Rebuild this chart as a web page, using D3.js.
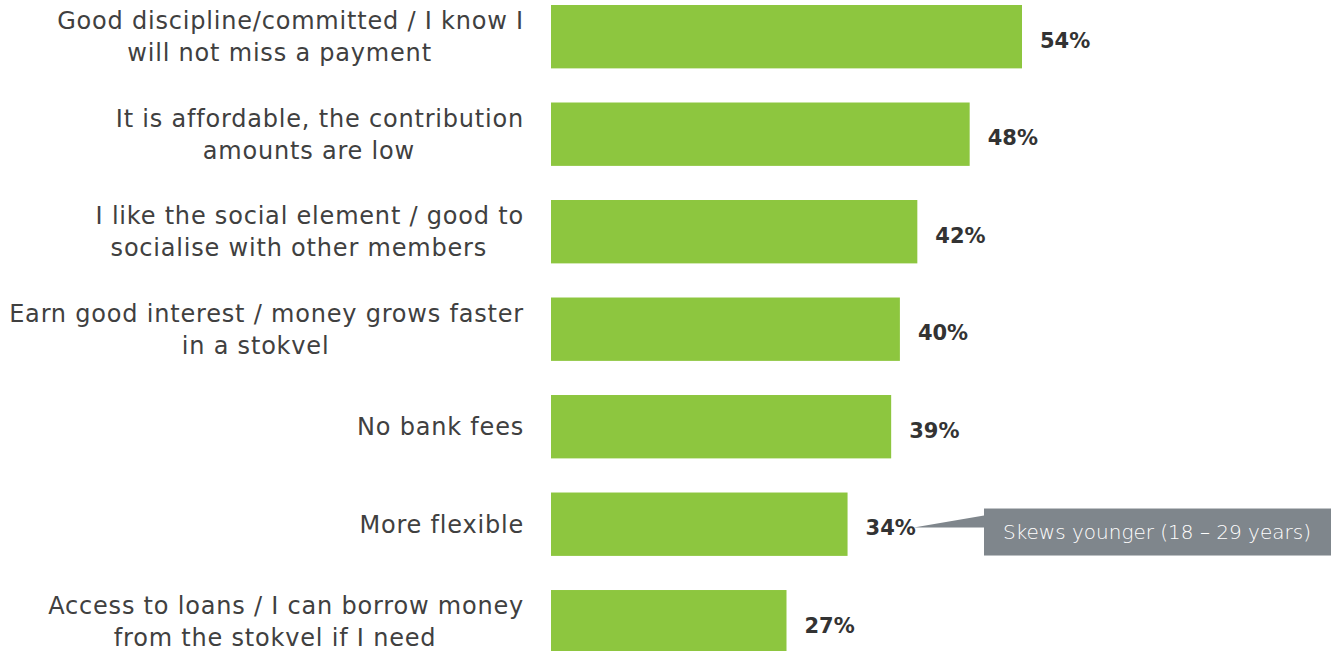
<!DOCTYPE html>
<html lang="en">
<head>
    <meta charset="UTF-8">
    <title>Why stokvel</title>
    <script src="https://cdn.jsdelivr.net/npm/d3@7"></script>
    <style>
        body { margin: 0; background: #fff; }
        text { font-family: "DejaVu Sans", sans-serif; }
    </style>
</head>
<body>
<svg id="chart"></svg>
<script>
    // data
    var categories = [
        ["Good discipline/committed / I know I", "will not miss a payment"],
        ["It is affordable, the contribution", "amounts are low"],
        ["I like the social element / good to", "socialise with other members"],
        ["Earn good interest / money grows faster", "in a stokvel"],
        ["No bank fees"],
        ["More flexible"],
        ["Access to loans / I can borrow money", "from the stokvel if I need"]
    ];
    var values = [54, 48, 42, 40, 39, 34, 27];
    var noteIndex = 5;
    var noteText = "Skews younger (18 \u2013 29 years)";

    var width = 1331, height = 651;
    var left = 551;

    var svg = d3.select("#chart")
        .attr("width", width)
        .attr("height", height);

    var x = d3.scaleLinear()
        .domain([0, 54])
        .range([left, 1022]);

    // step ~97.5px, bars ~63px tall
    var y = d3.scaleBand()
        .domain(d3.range(values.length))
        .range([5, 653.4])
        .paddingInner(0.35)
        .paddingOuter(0);

    var bw = y.bandwidth();

    svg.append("g").selectAll("rect")
        .data(values)
        .enter()
        .append("rect")
        .attr("x", x(0))
        .attr("y", function(d, i) { return y(i); })
        .attr("width", function(d) { return x(d) - x(0); })
        .attr("height", bw)
        .attr("fill", "#8dc63f");

    var valueLabels = svg.append("g").selectAll("text")
        .data(values)
        .enter()
        .append("text")
        .attr("x", function(d) { return x(d) + 18; })
        .attr("y", function(d, i) { return y(i) + bw / 2 + 11; })
        .attr("font-size", 21)
        .attr("font-weight", "bold")
        .attr("fill", "#333")
        .text(function(d) { return d + "%"; });

    // category labels: first line ends at the axis gap, second line centred a bit left of it
    var labels = svg.append("g");
    categories.forEach(function(lines, i) {
        var cy = y(i) + bw / 2;
        var first = labels.append("text")
            .attr("x", 524)
            .attr("y", lines.length > 1 ? cy - 16 + 8.5 : cy + 8.5)
            .attr("text-anchor", "end")
            .attr("font-size", 24)
            .attr("letter-spacing", 0.8)
            .attr("fill", "#404040")
            .text(lines[0]);
        if (lines.length > 1) {
            var b = first.node().getBBox();
            labels.append("text")
                .attr("x", b.x + b.width / 2 - 11)
                .attr("y", cy + 16 + 8.5)
                .attr("text-anchor", "middle")
                .attr("font-size", 24)
                .attr("letter-spacing", 0.8)
                .attr("fill", "#404040")
                .text(lines[1]);
        }
    });

    // callout
    var lb = valueLabels.nodes()[noteIndex].getBBox();
    var boxX = 984, boxY = y(noteIndex) + 16, boxH = 47;
    var tipX = lb.x + lb.width - 2, tipY = boxY + 19;

    var note = svg.append("g");
    note.append("path")
        .attr("d", "M" + boxX + "," + (boxY + 7) + "L" + tipX + "," + tipY + "L" + boxX + "," + tipY + "Z")
        .attr("fill", "#7f868c");
    note.append("rect")
        .attr("x", boxX)
        .attr("y", boxY)
        .attr("width", width - boxX)
        .attr("height", boxH)
        .attr("fill", "#7f868c");
    note.append("text")
        .attr("x", boxX + 19)
        .attr("y", boxY + boxH / 2 + 7)
        .attr("font-size", 20)
        .attr("font-weight", 300)
        .attr("fill", "#fff")
        .text(noteText);
</script>
</body>
</html>
